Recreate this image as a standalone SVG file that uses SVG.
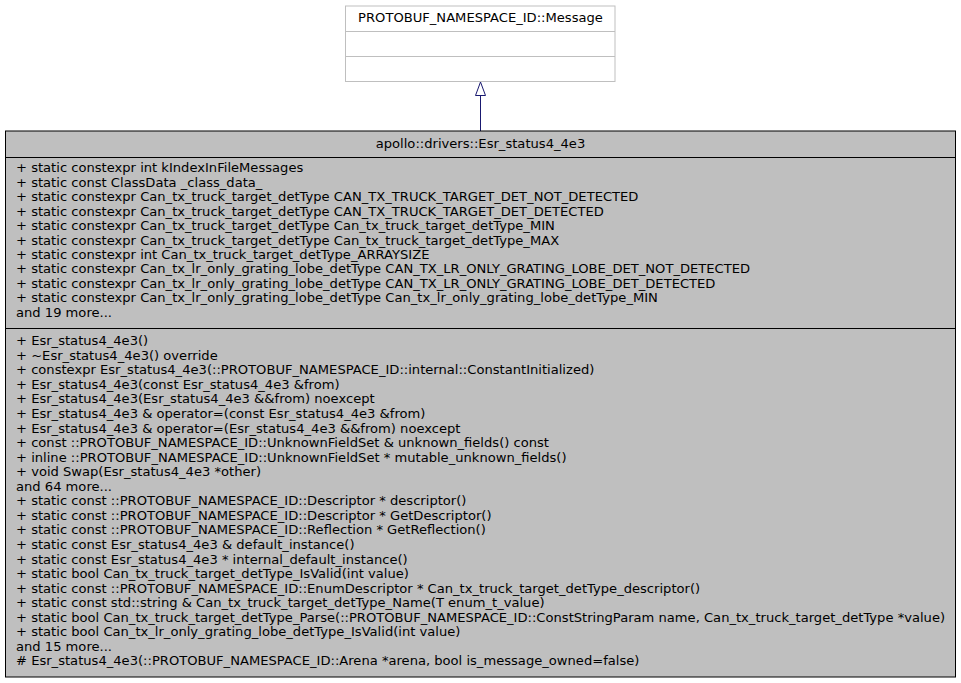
<svg xmlns="http://www.w3.org/2000/svg" width="961" height="683" viewBox="0 0 961 683">
<style>
text{font-family:"DejaVu Sans","Noto Sans",sans-serif;font-size:13.1px;fill:#000}
.c{text-anchor:middle}
.base{fill:#fff;stroke:#bfbfbf;stroke-width:1}
.main{fill:#bfbfbf;stroke:#000;stroke-width:1}
.edge{stroke:#191970;stroke-width:1;fill:none}
.head{stroke:#191970;stroke-width:1;fill:#fff}
</style>
<rect width="961" height="683" fill="#fff"/>
<g id="node-message">
<rect class="base" x="345.5" y="6" width="269.5" height="75.5"/>
<line class="base" x1="345.5" y1="31.5" x2="615" y2="31.5"/>
<line class="base" x1="345.5" y1="56.5" x2="615" y2="56.5"/>
<text class="c" x="480.5" y="22">PROTOBUF_NAMESPACE_ID::Message</text>
</g>
<g id="connectors">
<line class="edge" x1="480.5" y1="131" x2="480.5" y2="95.5"/>
<polygon class="head" points="480.5,82 475.5,95.5 485.5,95.5"/>
</g>
<g id="node-esr">
<rect class="main" x="5.5" y="131" width="950" height="546"/>
<line class="main" x1="5.5" y1="157.5" x2="955.5" y2="157.5"/>
<line class="main" x1="5.5" y1="328.5" x2="955.5" y2="328.5"/>
<text class="c" x="480.5" y="148">apollo::drivers::Esr_status4_4e3</text>
<text x="16" y="172.3">+ static constexpr int kIndexInFileMessages</text>
<text x="16" y="186.7">+ static const ClassData _class_data_</text>
<text x="16" y="201.2">+ static constexpr Can_tx_truck_target_detType CAN_TX_TRUCK_TARGET_DET_NOT_DETECTED</text>
<text x="16" y="215.6">+ static constexpr Can_tx_truck_target_detType CAN_TX_TRUCK_TARGET_DET_DETECTED</text>
<text x="16" y="230.1">+ static constexpr Can_tx_truck_target_detType Can_tx_truck_target_detType_MIN</text>
<text x="16" y="244.5">+ static constexpr Can_tx_truck_target_detType Can_tx_truck_target_detType_MAX</text>
<text x="16" y="258.9">+ static constexpr int Can_tx_truck_target_detType_ARRAYSIZE</text>
<text x="16" y="273.4">+ static constexpr Can_tx_lr_only_grating_lobe_detType CAN_TX_LR_ONLY_GRATING_LOBE_DET_NOT_DETECTED</text>
<text x="16" y="287.8">+ static constexpr Can_tx_lr_only_grating_lobe_detType CAN_TX_LR_ONLY_GRATING_LOBE_DET_DETECTED</text>
<text x="16" y="302.3">+ static constexpr Can_tx_lr_only_grating_lobe_detType Can_tx_lr_only_grating_lobe_detType_MIN</text>
<text x="16" y="316.7">and 19 more...</text>
<text x="16" y="345.2">+ Esr_status4_4e3()</text>
<text x="16" y="359.8">+ ~Esr_status4_4e3() override</text>
<text x="16" y="374.3">+ constexpr Esr_status4_4e3(::PROTOBUF_NAMESPACE_ID::internal::ConstantInitialized)</text>
<text x="16" y="388.9">+ Esr_status4_4e3(const Esr_status4_4e3 &amp;from)</text>
<text x="16" y="403.4">+ Esr_status4_4e3(Esr_status4_4e3 &amp;&amp;from) noexcept</text>
<text x="16" y="418.0">+ Esr_status4_4e3 &amp; operator=(const Esr_status4_4e3 &amp;from)</text>
<text x="16" y="432.5">+ Esr_status4_4e3 &amp; operator=(Esr_status4_4e3 &amp;&amp;from) noexcept</text>
<text x="16" y="447.1">+ const ::PROTOBUF_NAMESPACE_ID::UnknownFieldSet &amp; unknown_fields() const</text>
<text x="16" y="461.6">+ inline ::PROTOBUF_NAMESPACE_ID::UnknownFieldSet * mutable_unknown_fields()</text>
<text x="16" y="476.2">+ void Swap(Esr_status4_4e3 *other)</text>
<text x="16" y="490.7">and 64 more...</text>
<text x="16" y="505.3">+ static const ::PROTOBUF_NAMESPACE_ID::Descriptor * descriptor()</text>
<text x="16" y="519.8">+ static const ::PROTOBUF_NAMESPACE_ID::Descriptor * GetDescriptor()</text>
<text x="16" y="534.4">+ static const ::PROTOBUF_NAMESPACE_ID::Reflection * GetReflection()</text>
<text x="16" y="548.9">+ static const Esr_status4_4e3 &amp; default_instance()</text>
<text x="16" y="563.5">+ static const Esr_status4_4e3 * internal_default_instance()</text>
<text x="16" y="578.0">+ static bool Can_tx_truck_target_detType_IsValid(int value)</text>
<text x="16" y="592.6">+ static const ::PROTOBUF_NAMESPACE_ID::EnumDescriptor * Can_tx_truck_target_detType_descriptor()</text>
<text x="16" y="607.1">+ static const std::string &amp; Can_tx_truck_target_detType_Name(T enum_t_value)</text>
<text x="16" y="621.7">+ static bool Can_tx_truck_target_detType_Parse(::PROTOBUF_NAMESPACE_ID::ConstStringParam name, Can_tx_truck_target_detType *value)</text>
<text x="16" y="636.2">+ static bool Can_tx_lr_only_grating_lobe_detType_IsValid(int value)</text>
<text x="16" y="650.8">and 15 more...</text>
<text x="16" y="665.3"># Esr_status4_4e3(::PROTOBUF_NAMESPACE_ID::Arena *arena, bool is_message_owned=false)</text>
</g>
</svg>
